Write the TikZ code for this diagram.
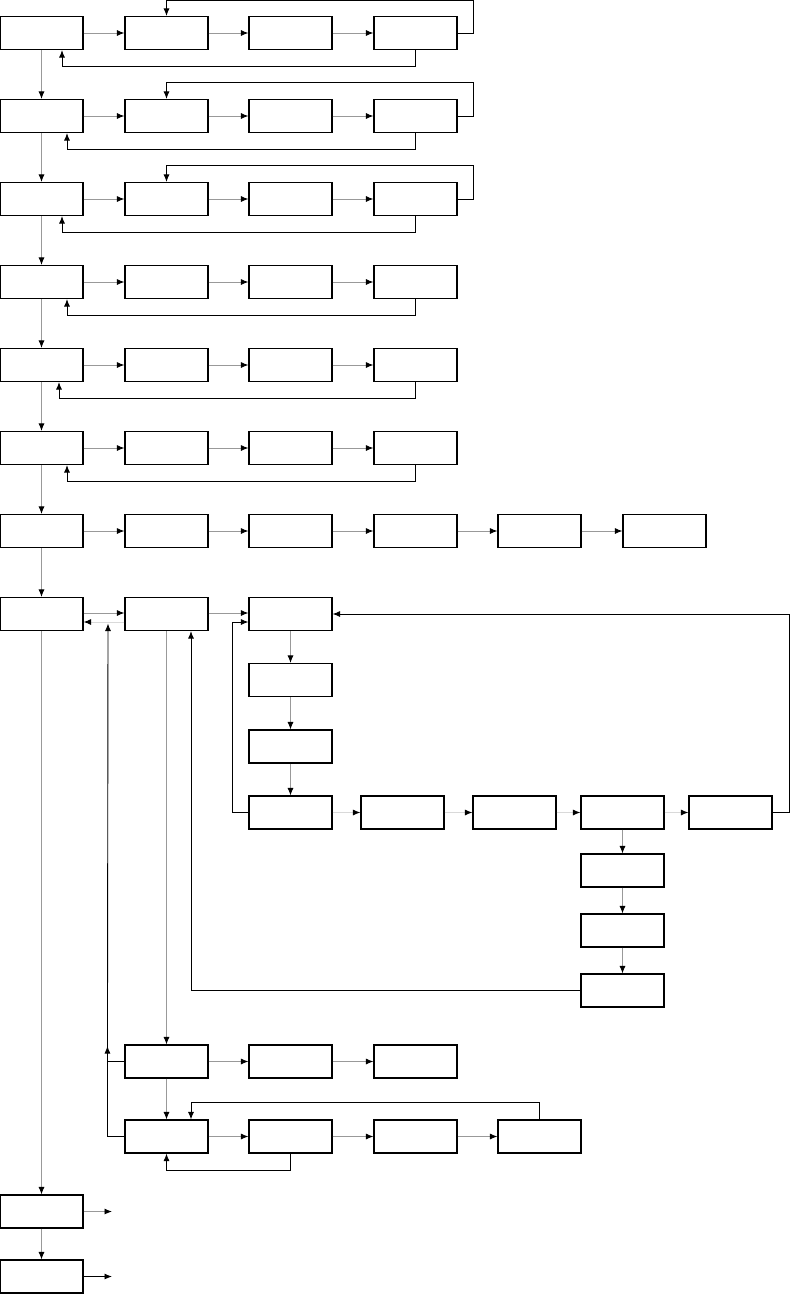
\documentclass[tikz,border=0pt]{standalone}
\usetikzlibrary{arrows.meta}
\begin{document}
\begin{tikzpicture}[x=1pt,y=-1pt,
  box/.style={draw=black,line width=1.1pt,minimum width=83pt,minimum height=33pt,inner sep=0pt,fill=white},
  flow/.style={draw=black!40,line width=0.9pt,-{Latex[black,length=7.5pt,width=6pt]}},
  flowlight/.style={draw=black!15,line width=1pt,-{Latex[black,length=7.5pt,width=6pt]}},
  back/.style={draw=black,line width=0.9pt,-{Latex[black,length=7.5pt,width=6pt]}},
  plain/.style={draw=black!40,line width=0.9pt}]
\useasboundingbox (0,0) rectangle (790,1294);
% rows 1-6
\foreach \r/\y in {1/33,2/116,3/199,4/282,5/365,6/448}{
  \foreach \c/\x in {1/41.5,2/166.5,3/290.5,4/415.5}{
    \node[box] (n\r\c) at (\x,\y) {};
  }
}
% row 7
\foreach \c/\x in {1/41.5,2/166.5,3/290.5,4/415.5,5/539.5,6/664.5}{
  \node[box] (n7\c) at (\x,531) {};
}
% row 8
\node[box] (n81) at (41.5,614) {};
\node[box] (n82) at (166.5,614) {};
\node[box] (n83) at (290.5,614) {};
% column under n83
\node[box] (v1) at (290.5,680) {};
\node[box] (v2) at (290.5,746.5) {};
\node[box] (v3) at (290.5,812.5) {};
\node[box] (h2) at (402.5,812.5) {};
\node[box] (h3) at (514.5,812.5) {};
\node[box] (h4) at (622.5,812.5) {};
\node[box] (h5) at (730.5,812.5) {};
\node[box] (d1) at (622.5,870.5) {};
\node[box] (d2) at (622.5,930.5) {};
\node[box] (d3) at (622.5,990.5) {};
% lower rows
\node[box] (la) at (166.5,1061.5) {};
\node[box] (la2) at (290.5,1061.5) {};
\node[box] (la3) at (415.5,1061.5) {};
\node[box] (lb) at (166.5,1136.5) {};
\node[box] (lb2) at (290.5,1136.5) {};
\node[box] (lb3) at (415.5,1136.5) {};
\node[box] (lb4) at (539.5,1136.5) {};
% bottom column 1
\node[box] (b1) at (41.5,1211.5) {};
\node[box] (b2) at (41.5,1276.5) {};
\coordinate (o1) at (112,1211.5);
\coordinate (o2) at (112,1276.5);
\coordinate (j1) at (108,623.5);

% horizontal flows rows 1-6
\foreach \r in {1,...,6}{
  \draw[flow] (n\r1) -- (n\r2);
  \draw[flow] (n\r2) -- (n\r3);
  \draw[flow] (n\r3) -- (n\r4);
}
\foreach \a/\b in {1/2,2/3,3/4,4/5,5/6}{
  \draw[flow] (n7\a) -- (n7\b);
}
% vertical column 1
\foreach \a/\b in {1/2,2/3,3/4,4/5,5/6,6/7,7/8}{
  \draw[flow] (n\a1) -- (n\b1);
}
\draw[flow] (n81) -- (b1);
\draw[flow] (b1) -- (b2);
\draw[flow] (b1.east) -- (o1);
\draw[back] (b2.east) -- (o2);

% top feedback rows 1-3
\draw[back] (n14.east) -- ++(16,0) -- ++(0,-32.5) -| (n12.north);
\draw[back] (n24.east) -- ++(16,0) -- ++(0,-34) -| (n22.north);
\draw[back] (n34.east) -- ++(16,0) -- ++(0,-34) -| (n32.north);
% bottom feedback rows 1-6
\draw[back] (n14.south) -- ++(0,16) -| ([xshift=20.5pt]n11.south);
\draw[back] (n24.south) -- ++(0,16.5) -| ([xshift=25.5pt]n21.south);
\draw[back] (n34.south) -- ++(0,16.5) -| ([xshift=20.5pt]n31.south);
\draw[back] (n44.south) -- ++(0,16.5) -| ([xshift=25.5pt]n41.south);
\draw[back] (n54.south) -- ++(0,16.5) -| ([xshift=17.5pt]n51.south);
\draw[back] (n64.south) -- ++(0,16.5) -| ([xshift=25.5pt]n61.south);

% row 8
\draw[flow] ([yshift=1pt]n81.east) -- ([yshift=1pt]n82.west);
\draw[flowlight] ([yshift=-8pt]n82.west) -- ([yshift=-8pt]n81.east);
\draw[flow] ([yshift=1pt]n82.east) -- ([yshift=1pt]n83.west);
\draw[flow] (n83) -- (v1);
\draw[flow] (v1) -- (v2);
\draw[flow] (v2) -- (v3);
\draw[flowlight] (v3) -- (h2);
\draw[flowlight] (h2) -- (h3);
\draw[flowlight] (h3) -- (h4);
\draw[flowlight] (h4) -- (h5);
\draw[back] (v3.west) -- ++(-16,0) |- ([yshift=-8pt]n83.west);
\draw[back] (h5.east) -- ++(17,0) |- (n83.east);
\draw[flow] (h4) -- (d1);
\draw[flow] (d1) -- (d2);
\draw[flow] (d2) -- (d3);
\draw[back] (d3.west) -| ([xshift=24.5pt]n82.south);

% lower part
\draw[flow] (n82) -- (la);
\draw[flow] (la) -- (lb);
\draw[flow] (la) -- (la2);
\draw[flow] (la2) -- (la3);
\draw[flow] (lb) -- (lb2);
\draw[flow] (lb2) -- (lb3);
\draw[flow] (lb3) -- (lb4);
\draw[back] (lb4.north) -- ++(0,-17) -| ([xshift=24.5pt]lb.north);
\draw[back] (lb2.south) -- ++(0,17) -| (lb.south);
\draw[back] (la.west) -- ++(-17,0) -- (j1);
\draw[back] (lb.west) -- ++(-17,0) -- ++(0,-90.5);
\end{tikzpicture}
\end{document}
